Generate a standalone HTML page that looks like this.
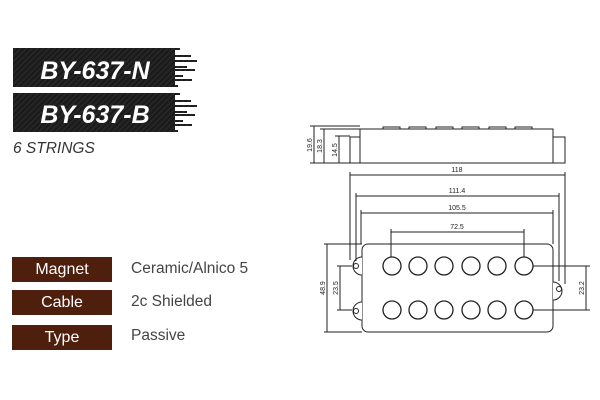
<!DOCTYPE html><html><head><style>
body{margin:0;width:600px;height:400px;background:#fff;position:relative;overflow:hidden;font-family:"Liberation Sans",sans-serif}
.lab{position:absolute;left:12px;width:100px;height:25px;background:#4e1f0c;color:#fff;font-size:16px;line-height:25px;text-align:center}
.val{position:absolute;left:131px;font-size:15.5px;color:#444}
</style></head><body>
<svg width="600" height="400" style="position:absolute;left:0;top:0">
<defs><pattern id="cf" width="4" height="4" patternUnits="userSpaceOnUse" patternTransform="rotate(45)"><rect width="4" height="4" fill="#262626"/><rect width="2" height="4" fill="#1a1a1a"/></pattern>
<g id="tail">
<rect x="13" y="0" width="162" height="39"/>
<rect x="175" y="0" width="5" height="2"/>
<rect x="175" y="7" width="16" height="2"/>
<rect x="175" y="12" width="22" height="2"/>
<rect x="175" y="18" width="12" height="2"/>
<rect x="175" y="21" width="20" height="2"/>
<rect x="175" y="27" width="8" height="2"/>
<rect x="175" y="31" width="17" height="2"/>
<rect x="175" y="37" width="3" height="2"/>
</g></defs>
<g fill="url(#cf)">
<use href="#tail" y="48"/>
<use href="#tail" y="93"/>
</g>
<text x="95" y="79" fill="#fff" font-size="25" font-weight="bold" font-style="italic" text-anchor="middle">BY-637-N</text>
<text x="95" y="123" fill="#fff" font-size="25" font-weight="bold" font-style="italic" text-anchor="middle">BY-637-B</text>
<text x="13" y="153" fill="#333" font-size="15.5" font-style="italic">6 STRINGS</text>
<g stroke="#222" stroke-width="1" fill="none">
<rect x="360" y="129" width="193" height="34"/>
<rect x="350" y="137" width="10" height="26"/>
<rect x="553" y="137" width="12" height="26"/>
<path d="M383 129v-2h17v2M409 129v-2h17v2M436 129v-2h17v2M462 129v-2h17v2M489 129v-2h17v2M515 129v-2h17v2"/>
<path d="M310 126h50M314 126v37M310 163h40M320 129h40M324 129v34M335 136h15M339 136v27"/>
<rect x="362" y="244" width="191" height="88" rx="6"/>
<g stroke-width="1.3">
<circle cx="392" cy="266" r="9"/><circle cx="418" cy="266" r="9"/><circle cx="444" cy="266" r="9"/><circle cx="471" cy="266" r="9"/><circle cx="497" cy="266" r="9"/><circle cx="524" cy="266" r="9"/>
<circle cx="392" cy="310" r="9"/><circle cx="418" cy="310" r="9"/><circle cx="444" cy="310" r="9"/><circle cx="471" cy="310" r="9"/><circle cx="497" cy="310" r="9"/><circle cx="524" cy="310" r="9"/>
</g>
<path d="M362 257a9 9 0 0 0 0 18M362 302a9 9 0 0 0 0 18M553 282a9 9 0 0 1 0 18" fill="#fff"/>
<circle cx="356" cy="266" r="2.5"/><circle cx="356" cy="311" r="2.5"/><circle cx="559" cy="289" r="2.5"/>
<path d="M350 175h215M350 172v88M565 172v112M356 196h203M356 193v68M559 193v88M361 213h192M361 210v34M553 210v34M391 232h133M391 229v28M524 229v28"/>
<path d="M324 244h38M327 244v88M324 332h38M337 266h15M340 266v44M337 310h15M533 266h57M586 266v44M533 310h57"/>
</g>
<g font-size="7" fill="#222" text-anchor="middle">
<text x="457" y="172">118</text><text x="457" y="193">111.4</text><text x="457" y="210">105.5</text><text x="457" y="229">72.5</text>
<text transform="translate(312,145) rotate(-90)">19.6</text>
<text transform="translate(322,146) rotate(-90)">18.3</text>
<text transform="translate(337,150) rotate(-90)">14.5</text>
<text transform="translate(325,288) rotate(-90)">48.9</text>
<text transform="translate(338,288) rotate(-90)">23.5</text>
<text transform="translate(584,288) rotate(-90)">23.2</text>
</g>
</svg>
<div class="lab" style="top:257px">Magnet</div><div class="val" style="top:260px">Ceramic/Alnico 5</div>
<div class="lab" style="top:290px">Cable</div><div class="val" style="top:293px">2c Shielded</div>
<div class="lab" style="top:325px">Type</div><div class="val" style="top:327px">Passive</div>
</body></html>
